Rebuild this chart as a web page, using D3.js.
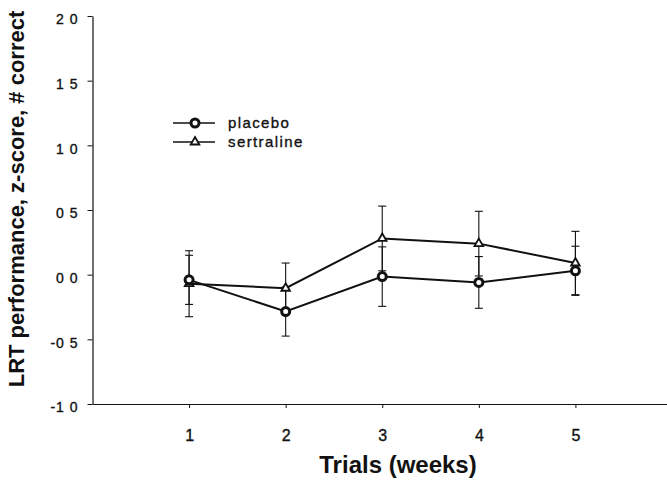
<!DOCTYPE html>
<html>
<head>
<meta charset="utf-8">
<script src="https://cdn.jsdelivr.net/npm/d3@7"></script>
<style>
  body { margin: 0; background: #fff; }
  svg { display: block; font-family: "Liberation Sans", Arial, sans-serif; }
</style>
</head>
<body>
<svg id="chart" width="667" height="480"></svg>
<script>
// values
const weeks          = [1, 2, 3, 4, 5];
const placeboMean    = [-0.04, -0.285, -0.015, -0.06, 0.03];
const placeboSE      = [0.19, 0.19, 0.23, 0.20, 0.19];
const sertralineMean = [-0.07, -0.105, 0.28, 0.24, 0.09];
const sertralineSE   = [0.255, 0.195, 0.25, 0.25, 0.245];

const yTickVals   = [-1, -0.5, 0, 0.5, 1, 1.5, 2];
const yTickLabels = ["-1 0", "-0 5", "0 0", "0 5", "1 0", "1 5", "2 0"];
const xTickVals   = [1, 2, 3, 4, 5];

const seriesNames = ["placebo", "sertraline"];

const svg = d3.select("#chart");

// scales
const x = d3.scaleLinear().domain([0, 6]).range([92.5, 672]);
const y = d3.scaleLinear().domain([-1, 2]).range([404, 16]);

// y axis
const yAxis = d3.axisLeft(y)
    .tickValues(yTickVals)
    .tickFormat((d, i) => yTickLabels[i])
    .tickSize(5)
    .tickSizeOuter(0)
    .tickPadding(9);

const yG = svg.append("g")
    .attr("transform", "translate(" + x(0) + ",0)")
    .call(yAxis);
yG.select(".domain").attr("stroke", "#111").attr("stroke-width", 1.2);
yG.selectAll(".tick line").attr("stroke", "#111");
yG.selectAll(".tick text")
    .style("font-size", "14px")
    .style("letter-spacing", "1px")
    .attr("fill", "#111")
    .attr("stroke", "#111")
    .attr("stroke-width", 0.35)
    .attr("dy", "0.55em");

// x axis
const xAxis = d3.axisBottom(x)
    .tickValues(xTickVals)
    .tickFormat(d3.format("d"))
    .tickSize(4)
    .tickSizeOuter(0)
    .tickPadding(22);

const xG = svg.append("g")
    .attr("transform", "translate(0," + y(-1) + ")")
    .call(xAxis);
xG.select(".domain").attr("stroke", "#111").attr("stroke-width", 1.2);
xG.selectAll(".tick line").attr("stroke", "#111");
xG.selectAll(".tick text")
    .style("font-size", "16px")
    .attr("fill", "#111")
    .attr("stroke", "#111")
    .attr("stroke-width", 0.35);

// axis titles
svg.append("text")
    .attr("transform", "translate(24," + 199 + ") rotate(-90)")
    .attr("text-anchor", "middle")
    .style("font-size", "22px")
    .style("font-weight", "bold")
    .attr("fill", "#111")
    .text("LRT performance, z-score, # correct");

svg.append("text")
    .attr("x", 398)
    .attr("y", 473)
    .attr("text-anchor", "middle")
    .style("font-size", "24px")
    .style("font-weight", "bold")
    .attr("fill", "#111")
    .text("Trials (weeks)");

// series
const series = [
    { name: seriesNames[0], mean: placeboMean,    se: placeboSE,    marker: "circle" },
    { name: seriesNames[1], mean: sertralineMean, se: sertralineSE, marker: "triangle" }
];

const line = d3.line()
    .x((d, i) => x(weeks[i]))
    .y(d => y(d));

const capW = 4;

// error bars first
series.forEach(s => {
    const g = svg.append("g").attr("stroke", "#111").attr("stroke-width", 1.1);
    weeks.forEach((w, i) => {
        const top = y(s.mean[i] + s.se[i]);
        const bot = y(s.mean[i] - s.se[i]);
        g.append("line").attr("x1", x(w)).attr("x2", x(w)).attr("y1", top).attr("y2", bot);
        g.append("line").attr("x1", x(w) - capW).attr("x2", x(w) + capW).attr("y1", top).attr("y2", top);
        g.append("line").attr("x1", x(w) - capW).attr("x2", x(w) + capW).attr("y1", bot).attr("y2", bot);
    });
});

// lines
series.forEach(s => {
    svg.append("path")
        .datum(s.mean)
        .attr("d", line)
        .attr("fill", "none")
        .attr("stroke", "#111")
        .attr("stroke-width", 2);
});

function drawMarker(g, kind, cx, cy) {
    if (kind === "circle") {
        g.append("circle")
            .attr("cx", cx).attr("cy", cy).attr("r", 4)
            .attr("fill", "#fff").attr("stroke", "#111").attr("stroke-width", 3);
    } else {
        g.append("path")
            .attr("d", d3.symbol().type(d3.symbolTriangle).size(32)())
            .attr("transform", "translate(" + cx + "," + cy + ")")
            .attr("fill", "#fff").attr("stroke", "#111").attr("stroke-width", 1.8);
    }
}

// markers (sertraline underneath placebo)
[series[1], series[0]].forEach(s => {
    const g = svg.append("g");
    weeks.forEach((w, i) => drawMarker(g, s.marker, x(w), y(s.mean[i])));
});

// legend
const legend = svg.append("g").attr("transform", "translate(173,123)");
series.forEach((s, i) => {
    const row = legend.append("g").attr("transform", "translate(0," + (i * 19) + ")");
    row.append("line")
        .attr("x1", 0).attr("x2", 42).attr("y1", 0).attr("y2", 0)
        .attr("stroke", "#111").attr("stroke-width", 1.6);
    drawMarker(row, s.marker, 22, 0);
    row.append("text")
        .attr("x", 55)
        .attr("y", 5)
        .style("font-size", "15px")
        .style("letter-spacing", "1.4px")
        .attr("fill", "#111")
        .attr("stroke", "#111")
        .attr("stroke-width", 0.35)
        .text(s.name);
});
</script>
</body>
</html>
